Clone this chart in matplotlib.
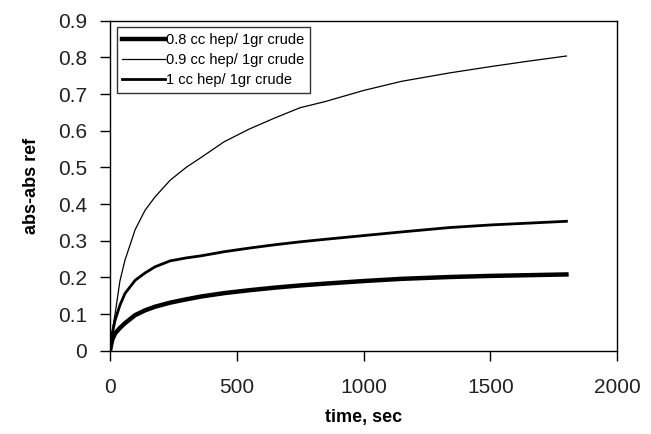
import numpy as np
import matplotlib.pyplot as plt

plt.rcParams['font.family'] = ['Liberation Sans', 'DejaVu Sans']

# time points (s) and readings for each heptane ratio
t = [0, 5, 10, 20, 39, 59, 99, 138, 178, 237, 300, 361, 450, 550, 650, 750,
     850, 1000, 1150, 1340, 1500, 1650, 1800]
y_08 = [0, 0.018, 0.032, 0.047, 0.062, 0.075, 0.097, 0.110, 0.120, 0.131,
        0.140, 0.148, 0.157, 0.165, 0.172, 0.178, 0.183, 0.190, 0.196,
        0.201, 0.204, 0.206, 0.208]
y_09 = [0, 0.03, 0.06, 0.10, 0.19, 0.247, 0.33, 0.383, 0.42, 0.465, 0.50,
        0.528, 0.57, 0.605, 0.635, 0.663, 0.68, 0.71, 0.735, 0.758, 0.775,
        0.79, 0.804]
y_10 = [0, 0.025, 0.05, 0.083, 0.124, 0.156, 0.192, 0.212, 0.229, 0.245,
        0.253, 0.259, 0.270, 0.280, 0.289, 0.297, 0.304, 0.314, 0.324,
        0.336, 0.343, 0.348, 0.353]
labels = ['0.8 cc hep/ 1gr crude', '0.9 cc hep/ 1gr crude', '1 cc hep/ 1gr crude']

fig = plt.figure(figsize=(6.51, 4.34), dpi=100)
ax = fig.add_axes([0.169, 0.192, 0.779, 0.760])

ax.plot(t, y_08, color='black', linewidth=3.2, label=labels[0])
ax.plot(t, y_09, color='black', linewidth=0.9, label=labels[1])
ax.plot(t, y_10, color='black', linewidth=2.0, label=labels[2])

ax.set_xlim(0, 2000)
ax.set_ylim(0, 0.9)
ax.set_xticks([0, 500, 1000, 1500, 2000])
ax.set_yticks(np.arange(0, 0.91, 0.1))
ax.set_yticklabels(['0', '0.1', '0.2', '0.3', '0.4', '0.5', '0.6', '0.7', '0.8', '0.9'])
ax.tick_params(direction='out', length=7.5, width=1, labelsize=15, pad=9,
               labelcolor='#222222')
ax.tick_params(axis='x', pad=12)
for s in ax.spines.values():
    s.set_linewidth(1.0)

ax.set_xlabel('time, sec', fontsize=13, fontweight='bold', labelpad=9)
ax.set_ylabel('abs-abs ref', fontsize=13, fontweight='bold', labelpad=13)

leg = ax.legend(loc='upper left', fontsize=10.5, frameon=True, fancybox=False,
                edgecolor='black', handlelength=2.9, handletextpad=0.1,
                borderpad=0.4, labelspacing=0.4, borderaxespad=0.45)
leg.get_frame().set_linewidth(1.0)

fig.savefig('out.png', dpi=100)
